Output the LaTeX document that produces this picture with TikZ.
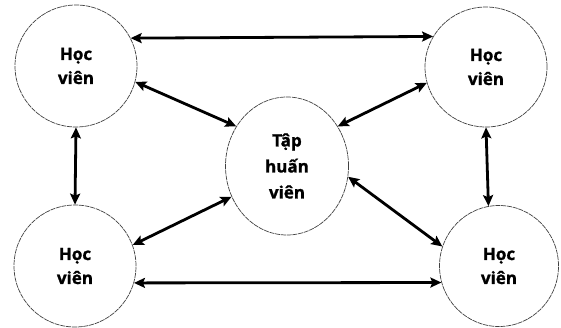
\documentclass[tikz,border=0pt]{standalone}
\usepackage{fontspec}
\setmainfont{Open Sans}
\newfontfamily\heavy{Open Sans}[FakeBold=1.2]
\usetikzlibrary{shapes.geometric,arrows.meta}
\tikzset{
  ring/.style={ellipse, draw=black!75, line width=0.7pt, dash pattern=on 5pt off 0.8pt, inner sep=0pt, align=center,
    font=\heavy\bfseries\fontsize{17}{24}\selectfont},
  link/.style={line width=2.8pt, {Stealth[length=11pt,width=10pt,inset=2pt]}-{Stealth[length=11pt,width=10pt,inset=2pt]}}
}
\begin{document}
\begin{tikzpicture}[x=1pt,y=-1pt]
\useasboundingbox (0,0) rectangle (561,327);
\node[ring, minimum width=122pt, minimum height=122pt] (tl) at (76,66) {Học\\viên};
\node[ring, minimum width=122pt, minimum height=120pt] (tr) at (486,67) {Học\\viên};
\node[ring, minimum width=122pt, minimum height=122pt] (bl) at (75,266) {Học\\viên};
\node[ring, minimum width=119pt, minimum height=121pt] (br) at (499,266) {Học\\viên};
\node[ring, minimum width=123pt, minimum height=138pt, font=\heavy\bfseries\fontsize{17}{26}\selectfont] (c) at (287,166) {Tập\\huấn\\viên};
\draw[link] (tl.27) -- (tr.150);
\draw[link] (bl.-16) -- (br.196);
\draw[link] (tl.south) -- (bl.north);
\draw[link] (tr.south) -- (br.100);
\draw[link] (tl.-15) -- (c.142);
\draw[link] (tr.195) -- (c.38);
\draw[link] (bl.20) -- (c.209);
\draw[link] (br.161) -- (c.-10);
\end{tikzpicture}
\end{document}
